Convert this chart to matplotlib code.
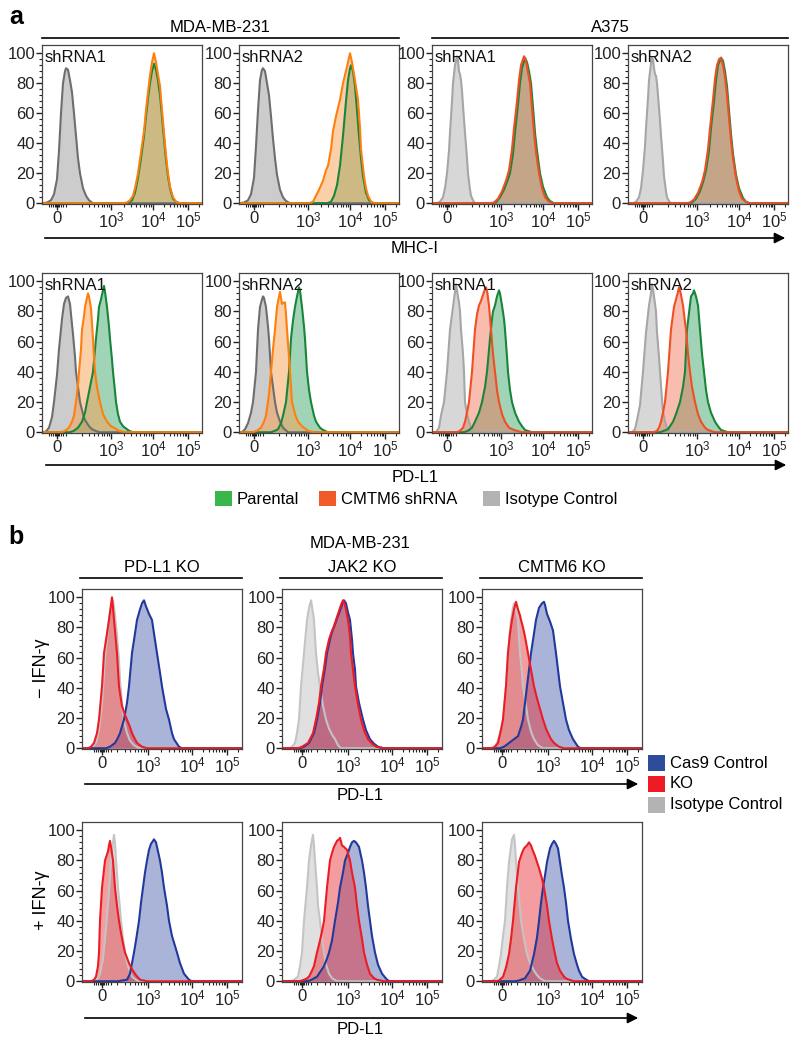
import numpy as np
import matplotlib
matplotlib.use('Agg')
import matplotlib.pyplot as plt
from matplotlib.lines import Line2D
from matplotlib.patches import Rectangle

plt.rcParams['font.family'] = ['Liberation Sans', 'DejaVu Sans']
plt.rcParams['mathtext.default'] = 'regular'

# x = channel (0-160 display channels), y = % of max
# ---- panel a, MHC-I ----
mhc_mda_sh1_iso = [(0, 0), (5, 0.5), (9, 2), (12, 6), (15, 16), (17, 35), (19, 60), (21, 80), (23, 88), (24, 90), (26, 89), (28, 82),
                   (30, 74), (32, 60), (34, 45), (36, 30), (38, 20), (41, 10), (44, 5), (47, 2), (51, 0), (160, 0)]
mhc_mda_sh1_par = [(0, 0), (82, 0), (87, 0.5), (90, 2), (93, 7), (96, 17), (99, 30), (102, 45), (104, 58), (106, 70), (108, 80), (110, 88),
                   (112, 93), (114, 89), (116, 82), (118, 72), (120, 58), (122, 43), (124, 29), (126, 18), (128, 10), (131, 3), (134, 1), (138, 0), (160, 0)]
mhc_mda_sh1_kd = [(0, 0), (80, 0), (85, 0.5), (88, 2), (91, 5), (93, 10), (96, 20), (99, 34), (102, 48), (104, 62), (106, 74), (108, 85),
                  (110, 94), (112, 100), (114, 94), (116, 86), (118, 78), (120, 62), (122, 47), (124, 32), (126, 20), (128, 11), (131, 4), (134, 1), (138, 0), (160, 0)]
mhc_mda_sh2_iso = [(0, 0), (5, 0.5), (9, 2), (12, 6), (15, 17), (17, 38), (19, 62), (21, 82), (23, 89), (24, 90), (26, 88), (28, 80),
                   (30, 72), (32, 58), (34, 43), (36, 30), (38, 19), (41, 9), (44, 4), (47, 1.5), (51, 0), (160, 0)]
mhc_mda_sh2_par = [(0, 0), (88, 0), (92, 1), (95, 5), (98, 12), (101, 25), (104, 45), (107, 68), (109, 82), (111, 90), (112, 92), (114, 88),
                   (116, 78), (118, 62), (120, 45), (122, 30), (124, 18), (127, 7), (130, 2), (134, 0), (160, 0)]
mhc_mda_sh2_kd = [(0, 0), (70, 0), (74, 1), (77, 5), (80, 9), (84, 15), (87, 22), (89, 25), (92, 36), (94, 48), (97, 58), (101, 69),
                  (104, 80), (108, 91), (111, 100), (113, 94), (116, 82), (119, 69), (121, 50), (122, 36), (125, 18), (127, 10),
                  (129, 5), (132, 1), (136, 0), (160, 0)]
mhc_a375_sh1_iso = [(0, 0), (5, 0), (8, 1), (11, 4), (13, 10), (15, 20), (17, 35), (18, 47), (20, 68), (21, 80), (23, 92), (25, 98),
                    (26, 95), (27, 88), (28, 86), (29, 82), (30, 75), (31, 65), (33, 47), (35, 30), (36, 20), (38, 9), (39, 5), (41, 2), (43, 0), (160, 0)]
mhc_a375_sh1_par = [(0, 0), (60, 0), (64, 0.5), (68, 4), (72, 9), (76, 16), (78, 20), (81, 33), (83, 47), (86, 66), (88, 80), (90, 90),
                    (93, 97), (95, 94), (97, 88), (99, 80), (101, 64), (103, 47), (105, 35), (108, 20), (111, 11), (115, 4), (118, 1.5), (122, 0), (160, 0)]
mhc_a375_sh1_kd = [(0, 0), (58, 0), (62, 0.5), (66, 3), (70, 8), (74, 15), (77, 22), (80, 36), (82, 50), (85, 68), (87, 82), (89, 92),
                   (92, 98), (94, 95), (96, 87), (98, 80), (100, 63), (102, 47), (104, 34), (107, 20), (110, 10), (113, 4), (117, 1), (121, 0), (160, 0)]
mhc_a375_sh2_iso = [(0, 0), (5, 0), (8, 1), (11, 4), (13, 10), (15, 22), (17, 38), (18, 50), (20, 70), (21, 82), (23, 93), (24, 97),
                    (25, 96), (26, 90), (27, 86), (28, 85), (29, 80), (30, 72), (32, 55), (33, 45), (35, 28), (36, 18), (38, 8), (39, 4), (41, 1.5), (43, 0), (160, 0)]
mhc_a375_sh2_par = [(0, 0), (60, 0), (64, 0.5), (68, 3), (72, 8), (75, 14), (78, 22), (81, 35), (83, 50), (86, 68), (88, 82), (90, 92),
                    (93, 97), (95, 95), (97, 88), (99, 78), (101, 62), (103, 46), (105, 33), (108, 19), (111, 10), (115, 3.5), (118, 1), (122, 0), (160, 0)]
mhc_a375_sh2_kd = [(0, 0), (58, 0), (62, 0.5), (66, 2.5), (70, 7), (74, 14), (77, 22), (80, 36), (82, 50), (85, 69), (87, 83), (89, 92),
                   (91, 96), (93, 97), (95, 92), (97, 84), (99, 72), (101, 57), (103, 42), (105, 30), (108, 17), (111, 8), (114, 3), (118, 1), (121, 0), (160, 0)]

# ---- panel a, PD-L1 ----
pdl1_mda_sh1_iso = [(0, 0), (4, 0.5), (7, 3), (10, 10), (12, 20), (15, 38), (17, 55), (20, 75), (22, 85), (24, 89), (26, 90), (28, 85),
                    (29, 78), (31, 65), (33, 50), (34, 40), (36, 30), (38, 20), (41, 12), (43, 8), (47, 4), (50, 2), (55, 0.5), (58, 0), (160, 0)]
pdl1_mda_sh1_par = [(0, 0), (28, 0), (32, 1), (36, 3), (40, 7), (43, 13), (45, 20), (48, 30), (51, 40), (53, 55), (54, 62), (56, 75),
                    (57, 83), (59, 88), (61, 94), (62, 97), (63, 93), (65, 83), (67, 70), (68, 62), (70, 48), (71, 40), (73, 27), (74, 20),
                    (76, 12), (78, 7), (81, 4), (83, 3), (87, 1), (91, 0), (160, 0)]
pdl1_mda_sh1_kd = [(0, 0), (20, 0), (23, 1), (27, 3), (30, 7), (32, 11), (34, 20), (36, 32), (37, 40), (39, 55), (40, 68), (42, 77),
                   (43, 83), (45, 89), (46, 92), (47, 90), (48, 86), (49, 82), (50, 72), (51, 62), (52, 50), (53, 40), (55, 30), (58, 20),
                   (61, 12), (65, 7), (69, 4), (72, 3), (77, 1), (83, 0), (160, 0)]
pdl1_mda_sh2_iso = [(0, 0), (3, 0), (6, 2), (9, 6), (12, 13), (14, 20), (17, 40), (19, 68), (21, 83), (23, 88), (24, 90), (25, 89),
                    (27, 83), (29, 70), (30, 62), (32, 40), (34, 30), (36, 20), (38, 13), (41, 7), (44, 3), (49, 0), (160, 0)]
pdl1_mda_sh2_par = [(0, 0), (32, 0), (36, 1), (39, 2), (42, 6), (44, 11), (47, 20), (50, 40), (52, 62), (54, 74), (56, 83), (58, 90),
                    (60, 96), (61, 94), (63, 83), (65, 70), (66, 62), (68, 40), (70, 28), (72, 20), (75, 11), (77, 7), (81, 3), (84, 1.5), (89, 0), (160, 0)]
pdl1_mda_sh2_kd = [(0, 0), (14, 0), (18, 1), (22, 3), (25, 7), (27, 11), (30, 25), (32, 40), (34, 55), (36, 68), (38, 83), (40, 90),
                   (41, 93), (42, 89), (43, 85), (45, 86), (46, 86), (47, 78), (48, 68), (50, 50), (51, 40), (52, 30), (53, 20), (56, 12),
                   (59, 7), (63, 4), (69, 1), (75, 0), (160, 0)]
pdl1_a375_sh1_iso = [(0, 0), (4, 0), (7, 3), (9, 11), (12, 20), (15, 40), (18, 68), (21, 83), (23, 93), (24, 98), (25, 94), (27, 86),
                     (28, 80), (29, 68), (31, 52), (32, 40), (33, 20), (35, 12), (37, 7), (39, 3), (42, 0), (160, 0)]
pdl1_a375_sh1_par = [(0, 0), (32, 0), (36, 1), (40, 3), (43, 7), (47, 13), (50, 20), (53, 30), (55, 40), (58, 62), (60, 75), (61, 80),
                     (63, 84), (65, 90), (67, 94), (68, 92), (70, 84), (72, 75), (73, 68), (75, 50), (76, 40), (78, 28), (80, 20), (83, 13),
                     (87, 7), (90, 4), (93, 1.5), (100, 0), (160, 0)]
pdl1_a375_sh1_kd = [(0, 0), (25, 0), (28, 1), (31, 3), (33, 7), (35, 13), (37, 20), (40, 40), (43, 68), (45, 78), (47, 84), (49, 87),
                    (51, 91), (53, 95), (54, 96), (55, 94), (57, 84), (59, 68), (61, 52), (63, 40), (65, 28), (67, 20), (70, 12), (73, 7),
                    (77, 3), (82, 1.5), (90, 0), (160, 0)]
pdl1_a375_sh2_iso = [(0, 0), (4, 0), (7, 2), (9, 8), (12, 18), (15, 40), (18, 66), (21, 84), (23, 92), (24, 98), (25, 95), (27, 85),
                     (28, 80), (29, 66), (31, 50), (32, 40), (34, 22), (35, 14), (37, 7), (39, 3), (42, 0), (160, 0)]
pdl1_a375_sh2_par = [(0, 0), (32, 0), (36, 1), (40, 2), (45, 7), (48, 12), (52, 20), (55, 30), (57, 40), (59, 68), (61, 79), (63, 90),
                     (65, 92), (66, 94), (68, 90), (70, 84), (72, 68), (74, 52), (76, 40), (78, 28), (80, 20), (83, 13), (87, 7), (90, 4),
                     (93, 1.5), (100, 0), (160, 0)]
pdl1_a375_sh2_kd = [(0, 0), (26, 0), (29, 1), (31, 3), (33, 7), (35, 13), (37, 20), (40, 40), (43, 68), (46, 83), (48, 88), (50, 93),
                    (51, 96), (52, 94), (53, 91), (55, 84), (57, 73), (58, 68), (60, 52), (62, 40), (64, 30), (67, 20), (70, 12), (73, 7),
                    (77, 3), (80, 1.5), (87, 0), (160, 0)]

# ---- panel b, PD-L1 in KO lines ----
minus_pdl1ko_iso = [(0, 0), (8, 0), (11, 1), (14, 4), (17, 12), (20, 30), (23, 60), (26, 80), (28, 90), (30, 96), (31, 98), (33, 88),
                    (35, 75), (37, 58), (38, 45), (40, 30), (42, 18), (45, 10), (48, 5), (52, 2), (57, 0), (160, 0)]
minus_pdl1ko_cas9 = [(0, 0), (24, 0), (28, 1), (33, 3.5), (36, 7), (38, 10), (42, 19), (45, 30), (47, 41), (50, 63), (53, 76), (55, 85),
                     (58, 92), (60, 96), (62, 98), (64, 94), (67, 89), (70, 85), (72, 76), (75, 63), (78, 50), (80, 41), (84, 26), (87, 19),
                     (90, 10), (92, 6), (95, 3), (97, 1), (100, 0), (160, 0)]
minus_pdl1ko_ko = [(0, 0), (6, 0), (9, 1), (12, 3.5), (15, 10), (17, 19), (20, 41), (22, 63), (25, 76), (27, 85), (29, 95), (30, 100),
                   (31, 93), (32, 85), (33, 78), (35, 63), (37, 41), (39, 32), (40, 28), (43, 22), (45, 19), (48, 14), (50, 10), (53, 6),
                   (55, 3.5), (60, 1), (65, 0), (160, 0)]
minus_jak2ko_iso = [(0, 0), (7, 0), (10, 1), (13, 3.5), (15, 10), (17, 19), (19, 41), (22, 63), (25, 85), (27, 93), (29, 98), (30, 94),
                    (32, 85), (34, 63), (36, 50), (38, 41), (41, 28), (44, 19), (47, 13), (50, 9), (53, 6), (56, 2), (59, 0), (160, 0)]
minus_jak2ko_cas9 = [(0, 0), (18, 0), (22, 1), (27, 3.5), (32, 10), (35, 19), (38, 30), (40, 41), (43, 53), (45, 63), (48, 72), (50, 77),
                     (53, 82), (55, 86), (58, 91), (60, 95), (62, 98), (64, 96), (66, 90), (68, 85), (70, 72), (71, 63), (73, 52), (74, 41),
                     (77, 30), (81, 19), (84, 12), (88, 6), (92, 3), (96, 1), (102, 0), (160, 0)]
minus_jak2ko_ko = [(0, 0), (16, 0), (20, 1), (26, 3.5), (31, 10), (34, 19), (37, 30), (39, 41), (42, 53), (44, 63), (47, 72), (49, 76),
                   (52, 81), (54, 85), (57, 91), (59, 95), (61, 98), (63, 95), (66, 85), (68, 74), (69, 63), (71, 52), (73, 41), (76, 29),
                   (79, 19), (82, 12), (86, 6), (90, 3), (94, 1), (101, 0), (160, 0)]
minus_cmtm6ko_iso = [(0, 0), (9, 0), (12, 1), (15, 3.5), (18, 10), (21, 19), (24, 41), (26, 63), (29, 85), (31, 93), (32, 96), (34, 92),
                     (36, 85), (38, 63), (40, 50), (41, 41), (44, 28), (46, 19), (49, 11), (52, 6), (56, 2), (61, 0), (160, 0)]
minus_cmtm6ko_cas9 = [(0, 0), (18, 0), (22, 1), (27, 3.5), (32, 6), (36, 8), (39, 14), (41, 19), (43, 30), (45, 41), (47, 52), (49, 63),
                      (52, 76), (54, 85), (57, 93), (60, 96), (62, 97), (63, 95), (65, 89), (68, 84), (71, 78), (74, 63), (76, 52), (78, 41),
                      (81, 30), (84, 19), (87, 12), (91, 6), (94, 3), (96, 1), (99, 0), (160, 0)]
minus_cmtm6ko_ko = [(0, 0), (10, 0), (13, 1), (16, 3.5), (19, 12), (21, 19), (24, 41), (26, 63), (28, 76), (30, 85), (32, 92), (34, 97),
                    (36, 92), (38, 88), (39, 85), (41, 80), (43, 74), (46, 63), (49, 52), (52, 41), (55, 33), (58, 26), (61, 19), (64, 13),
                    (66, 10), (69, 6), (72, 3.5), (77, 1), (82, 0), (160, 0)]

plus_pdl1ko_iso = [(0, 0), (12, 0), (15, 1), (18, 5), (21, 15), (24, 35), (27, 60), (29, 80), (31, 92), (32, 97), (33, 92), (34, 80),
                   (36, 62), (38, 48), (39, 40), (41, 28), (43, 19), (46, 10), (50, 3), (55, 0.5), (58, 0), (160, 0)]
plus_pdl1ko_cas9 = [(0, 0), (36, 0), (40, 0.5), (45, 1), (48, 5), (52, 19), (54, 27), (57, 40), (59, 52), (61, 62), (63, 72), (65, 80),
                    (67, 87), (69, 91), (72, 94), (74, 92), (75, 89), (78, 80), (80, 72), (82, 62), (85, 50), (87, 40), (90, 30), (95, 19),
                    (98, 12), (102, 5), (107, 1), (110, 0), (160, 0)]
plus_pdl1ko_ko = [(0, 0), (9, 0), (12, 1), (14, 3), (16, 10), (17, 19), (18, 40), (20, 62), (22, 74), (23, 80), (26, 86), (27, 90),
                  (28, 93), (29, 89), (31, 80), (33, 62), (35, 50), (37, 40), (39, 32), (41, 25), (43, 19), (47, 12), (50, 8), (54, 4),
                  (58, 1), (65, 0), (160, 0)]
plus_jak2ko_iso = [(0, 0), (9, 0), (12, 1), (16, 3), (18, 10), (20, 19), (22, 40), (25, 62), (27, 80), (29, 90), (31, 97), (32, 90),
                   (33, 80), (35, 62), (36, 50), (38, 40), (40, 28), (42, 19), (44, 11), (47, 5), (50, 2), (55, 0), (160, 0)]
plus_jak2ko_cas9 = [(0, 0), (24, 0), (28, 0.5), (35, 3), (42, 10), (45, 15), (47, 19), (50, 27), (53, 40), (56, 52), (58, 62), (61, 72),
                    (63, 80), (66, 85), (68, 89), (70, 92), (72, 93), (74, 92), (77, 89), (80, 80), (82, 72), (84, 62), (86, 50), (88, 40),
                    (90, 30), (93, 19), (96, 11), (100, 5), (105, 1), (108, 0), (160, 0)]
plus_jak2ko_ko = [(0, 0), (17, 0), (20, 0.5), (24, 1.5), (27, 3), (30, 7), (32, 10), (35, 19), (38, 27), (40, 33), (42, 40), (45, 62),
                  (48, 80), (50, 85), (52, 89), (55, 93), (57, 94), (58, 95), (60, 90), (62, 89), (65, 87), (68, 80), (70, 72), (73, 62),
                  (75, 50), (77, 40), (80, 28), (82, 19), (85, 11), (88, 5), (92, 2), (95, 1), (102, 0), (160, 0)]
plus_cmtm6ko_iso = [(0, 0), (9, 0), (12, 1), (15, 3), (17, 10), (19, 18), (21, 30), (23, 40), (25, 62), (27, 79), (30, 94), (32, 97),
                    (33, 90), (34, 79), (36, 62), (38, 48), (39, 40), (42, 28), (45, 18), (48, 12), (52, 7), (55, 4), (58, 2), (63, 0), (160, 0)]
plus_cmtm6ko_cas9 = [(0, 0), (33, 0), (37, 0.5), (43, 2), (48, 7), (52, 18), (55, 29), (57, 40), (59, 52), (61, 62), (63, 70), (65, 79),
                     (68, 88), (70, 91), (72, 93), (74, 91), (76, 88), (78, 79), (80, 70), (82, 62), (84, 52), (86, 40), (89, 28), (92, 18),
                     (95, 11), (97, 7), (100, 3), (102, 2), (107, 0), (160, 0)]
plus_cmtm6ko_ko = [(0, 0), (14, 0), (17, 0.5), (21, 3), (24, 9), (27, 18), (29, 28), (31, 40), (34, 62), (37, 79), (40, 85), (42, 88),
                   (45, 90), (47, 92), (49, 90), (50, 88), (53, 83), (57, 75), (60, 68), (62, 62), (65, 50), (67, 40), (70, 28), (73, 18),
                   (75, 12), (78, 7), (82, 3), (85, 1.5), (92, 0), (160, 0)]

tick_labels = ['0', '$10^3$', '$10^4$', '$10^5$']
ticks_a = [15, 69, 111, 146]   # channel of 0, 1e3, 1e4, 1e5
ticks_b = [20, 66, 110, 145]
cell_lines = ['MDA-MB-231', 'A375']
shrna_names = ['shRNA1', 'shRNA2']
ko_names = ['PD-L1 KO', 'JAK2 KO', 'CMTM6 KO']
ifn_labels = ['\u2212 IFN-\u03b3', '+ IFN-\u03b3']
legend_a = ['Parental', 'CMTM6 shRNA', 'Isotype Control']
legend_b = ['Cas9 Control', 'KO', 'Isotype Control']
legend_a_colors = ['#39b54a', '#f15a29', '#b3b3b3']
legend_b_colors = ['#2e4c9c', '#ed1c24', '#b3b3b3']

W, H = 800, 1045
FS = 12
fig = plt.figure(figsize=(W / 100, H / 100), dpi=100)


def fx(px):
    return px / W


def fy(py):
    return 1 - py / H


def add_ax(left, top, w=160, h=160):
    return fig.add_axes([fx(left), fy(top + h), w / W, h / H])


def unpack(pts):
    return [p[0] for p in pts], [p[1] for p in pts]


def draw_hist(ax, pts, line, fill, alpha):
    x, y = unpack(pts)
    ax.fill_between(x, 0, y, color=fill, alpha=alpha, lw=0)
    ax.plot(x, y, color=line, lw=1.5, solid_joinstyle='round')


def setup(ax, ticks, fs):
    ax.set_xlim(0, 160)
    ax.set_ylim(-0.5, 105.5)
    ax.set_xticks(ticks)
    ax.set_xticklabels(tick_labels)
    t0, t3, t4, t5 = ticks
    mins = [t0 + d for d in (-8, -6, -4, -2, -1, 1, 2, 4, 6, 9)]
    k = np.arange(2, 10)
    mins += list(t3 - (t4 - t3) * (1 - np.log10(k)))
    mins += list(t3 + (t4 - t3) * np.log10(k))
    mins += list(t4 + (t5 - t4) * np.log10(k))
    mins += [t5 + (t5 - t4) * np.log10(2)]
    ax.set_xticks([m for m in mins if 0 < m < 160], minor=True)
    ax.set_yticks(range(0, 101, 20))
    ax.set_yticks(range(0, 101, 4), minor=True)
    ax.tick_params(which='major', length=4, width=1, direction='out', labelsize=fs, pad=1, colors='#222222')
    ax.tick_params(which='minor', length=2, width=0.8, direction='out', color='#222222')
    for s in ax.spines.values():
        s.set_color('#444444')
        s.set_linewidth(0.9)


def hline(x1, x2, y, arrow=False):
    if arrow:
        fig.add_artist(matplotlib.patches.FancyArrowPatch((fx(x1), fy(y)), (fx(x2), fy(y)), transform=fig.transFigure,
                                                          arrowstyle='-|>', mutation_scale=16, lw=1.2, color='black'))
    else:
        fig.add_artist(Line2D([fx(x1), fx(x2)], [fy(y), fy(y)], color='black', lw=1.2))


# ---------- panel a ----------
green = ('#17863a', '#30a060', 0.45)
orange = ('#ff7f0e', '#f9a050', 0.5)
redorange = ('#f04e23', '#f26d4f', 0.45)
gray_mda = ('#6e6e6e', '#9a9a9a', 0.5)
gray_a375 = ('#a6a6a6', '#b0b0b0', 0.5)

rows_a = [
    (45, 159, [[mhc_mda_sh1_iso, mhc_mda_sh1_par, mhc_mda_sh1_kd], [mhc_mda_sh2_iso, mhc_mda_sh2_par, mhc_mda_sh2_kd],
               [mhc_a375_sh1_iso, mhc_a375_sh1_par, mhc_a375_sh1_kd], [mhc_a375_sh2_iso, mhc_a375_sh2_par, mhc_a375_sh2_kd]]),
    (273, 160, [[pdl1_mda_sh1_iso, pdl1_mda_sh1_par, pdl1_mda_sh1_kd], [pdl1_mda_sh2_iso, pdl1_mda_sh2_par, pdl1_mda_sh2_kd],
                [pdl1_a375_sh1_iso, pdl1_a375_sh1_par, pdl1_a375_sh1_kd], [pdl1_a375_sh2_iso, pdl1_a375_sh2_par, pdl1_a375_sh2_kd]]),
]
lefts_a = [42, 239, 432, 628]
for top, h, panels in rows_a:
    for i, (left, curves) in enumerate(zip(lefts_a, panels)):
        ax = add_ax(left, top, 160, h)
        iso, par, kd = curves
        g = gray_mda if i < 2 else gray_a375
        o = orange if i < 2 else redorange
        draw_hist(ax, iso, *g)
        draw_hist(ax, par, *green)
        draw_hist(ax, kd, *o)
        setup(ax, ticks_a, FS)
        ax.text(3, 102, shrna_names[i % 2], fontsize=FS, va='top', ha='left', color='#111111')

fig.text(fx(16), fy(17), 'a', fontsize=18, fontweight='bold', ha='center', va='center')
fig.text(fx(220), fy(28), cell_lines[0], fontsize=FS, ha='center', va='center')
fig.text(fx(610), fy(28), cell_lines[1], fontsize=FS, ha='center', va='center')
hline(42, 399, 38)
hline(432, 788, 38)
hline(42, 788, 238, arrow=True)
fig.text(fx(415), fy(249), 'MHC-I', fontsize=FS, ha='center', va='center')
hline(43, 789, 465, arrow=True)
fig.text(fx(415), fy(478), 'PD-L1', fontsize=FS, ha='center', va='center')

leg_x = [215, 319, 483]
for x, lab, c in zip(leg_x, legend_a, legend_a_colors):
    fig.add_artist(Rectangle((fx(x), fy(506)), 17 / W, 15 / H, transform=fig.transFigure, color=c, lw=0))
    fig.text(fx(x + 22), fy(499), lab, fontsize=FS, ha='left', va='center')

# ---------- panel b ----------
blue = ('#22399b', '#2b45a0', 0.4)
red = ('#ed1c24', '#e8262e', 0.45)
gray_b = ('#c4c4c4', '#bcbcbc', 0.45)

rows_b = [
    (589, [[minus_pdl1ko_iso, minus_pdl1ko_cas9, minus_pdl1ko_ko], [minus_jak2ko_iso, minus_jak2ko_cas9, minus_jak2ko_ko],
           [minus_cmtm6ko_iso, minus_cmtm6ko_cas9, minus_cmtm6ko_ko]]),
    (822, [[plus_pdl1ko_iso, plus_pdl1ko_cas9, plus_pdl1ko_ko], [plus_jak2ko_iso, plus_jak2ko_cas9, plus_jak2ko_ko],
           [plus_cmtm6ko_iso, plus_cmtm6ko_cas9, plus_cmtm6ko_ko]]),
]
lefts_b = [82, 282, 482]
for top, panels in rows_b:
    for left, curves in zip(lefts_b, panels):
        ax = add_ax(left, top, 160, 160)
        iso, cas9, ko = curves
        draw_hist(ax, iso, *gray_b)
        draw_hist(ax, cas9, *blue)
        draw_hist(ax, ko, *red)
        setup(ax, ticks_b, FS)

fig.text(fx(16), fy(537), 'b', fontsize=18, fontweight='bold', ha='center', va='center')
fig.text(fx(360), fy(543), cell_lines[0], fontsize=FS, ha='center', va='center')
for left, name in zip(lefts_b, ko_names):
    fig.text(fx(left + 80), fy(567), name, fontsize=FS, ha='center', va='center')
    hline(left - 2, left + 160, 578)
hline(82, 641, 784, arrow=True)
fig.text(fx(360), fy(796), 'PD-L1', fontsize=FS, ha='center', va='center')
hline(82, 641, 1018, arrow=True)
fig.text(fx(360), fy(1030), 'PD-L1', fontsize=FS, ha='center', va='center')
fig.text(fx(42), fy(668), ifn_labels[0], fontsize=13, rotation=90, ha='center', va='center')
fig.text(fx(42), fy(900), ifn_labels[1], fontsize=13, rotation=90, ha='center', va='center')

for j, (lab, c) in enumerate(zip(legend_b, legend_b_colors)):
    yc = 763 + 21 * j
    fig.add_artist(Rectangle((fx(648), fy(yc + 8)), 17 / W, 16 / H, transform=fig.transFigure, color=c, lw=0))
    fig.text(fx(670), fy(yc), lab, fontsize=FS, ha='left', va='center')

fig.savefig('out.png', dpi=100, facecolor='white')
